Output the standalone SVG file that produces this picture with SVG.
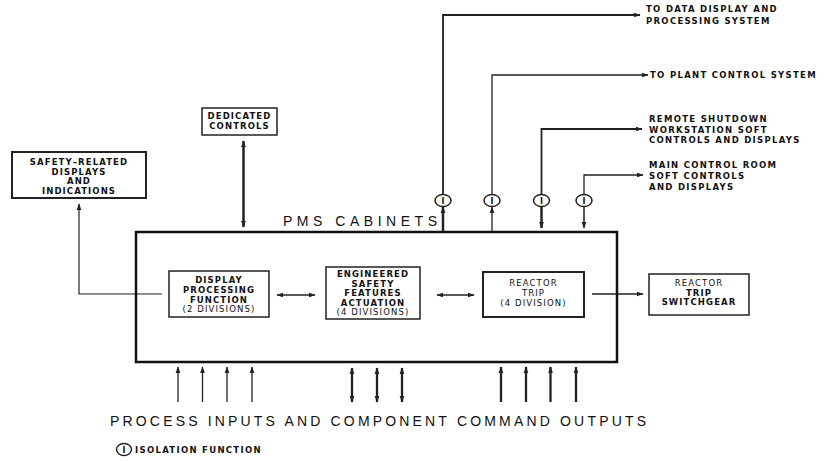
<svg xmlns="http://www.w3.org/2000/svg" width="833" height="461" viewBox="0 0 833 461">
<style>
.s{font-family:"DejaVu Sans","Liberation Sans",sans-serif;font-weight:bold;font-size:8.5px;letter-spacing:1.1px;fill:#111;text-anchor:middle}
.l{font-family:"DejaVu Sans","Liberation Sans",sans-serif;font-weight:bold;font-size:8.5px;letter-spacing:1.3px;fill:#111}
.b{font-family:"Liberation Sans",Arial,sans-serif;font-size:14px;fill:#111}
.ln{stroke:#222;fill:none}
.box{fill:#fff;stroke:#222}
</style>
<defs>
<marker id="ah" viewBox="0 0 10 10" refX="9" refY="5" markerWidth="7" markerHeight="7" markerUnits="userSpaceOnUse" orient="auto-start-reverse">
<path d="M0,1.5 L10,5 L0,8.5 z" fill="#222"/>
</marker>
</defs>
<rect width="833" height="461" fill="#fff"/>

<g id="connectors">
<path class="ln" d="M162,294 H79 V204" stroke-width="1.2" marker-end="url(#ah)"/>
<path class="ln" d="M243.5,141 V227" stroke-width="2.5" marker-start="url(#ah)" marker-end="url(#ah)"/>
<path class="ln" d="M277,295 H315" stroke-width="1.5" marker-start="url(#ah)" marker-end="url(#ah)"/>
<path class="ln" d="M437,295 H474" stroke-width="1.5" marker-start="url(#ah)" marker-end="url(#ah)"/>
<path class="ln" d="M592,294 H643" stroke-width="1.5" marker-end="url(#ah)"/>
<path class="ln" d="M443,194 V15 H640" stroke-width="1.8" marker-end="url(#ah)"/>
<path class="ln" d="M492,194 V75 H648" stroke-width="1.3" marker-end="url(#ah)"/>
<path class="ln" d="M541.5,194 V129 H642" stroke-width="1.8" marker-end="url(#ah)"/>
<path class="ln" d="M584,194 V175 H643" stroke-width="1.3" marker-end="url(#ah)"/>
<path class="ln" d="M443,232 V207" stroke-width="2.5" marker-end="url(#ah)"/>
<path class="ln" d="M492,232 V207" stroke-width="1.3" marker-end="url(#ah)"/>
<path class="ln" d="M541.5,207 V228" stroke-width="2.5" marker-end="url(#ah)"/>
<path class="ln" d="M584,207 V228" stroke-width="1.5" marker-end="url(#ah)"/>
<path class="ln" d="M178,402 V367" stroke-width="1.3" marker-end="url(#ah)"/>
<path class="ln" d="M202.5,402 V367" stroke-width="1.3" marker-end="url(#ah)"/>
<path class="ln" d="M227,402 V367" stroke-width="1.3" marker-end="url(#ah)"/>
<path class="ln" d="M252,402 V367" stroke-width="1.3" marker-end="url(#ah)"/>
<path class="ln" d="M352,368 V402" stroke-width="2.3" marker-start="url(#ah)" marker-end="url(#ah)"/>
<path class="ln" d="M377,368 V402" stroke-width="2.3" marker-start="url(#ah)" marker-end="url(#ah)"/>
<path class="ln" d="M402,368 V402" stroke-width="2.3" marker-start="url(#ah)" marker-end="url(#ah)"/>
<path class="ln" d="M501,402 V367" stroke-width="2.3" marker-end="url(#ah)"/>
<path class="ln" d="M526,402 V367" stroke-width="2.3" marker-end="url(#ah)"/>
<path class="ln" d="M550.5,402 V367" stroke-width="2.3" marker-end="url(#ah)"/>
<path class="ln" d="M576,402 V367" stroke-width="2.3" marker-end="url(#ah)"/>
</g>

<g id="isolation">
<g><ellipse cx="443" cy="200.5" rx="8" ry="6" fill="#fff" stroke="#222" stroke-width="1.5"/><text x="443" y="203.5" class="s" style="letter-spacing:0;font-size:8px">I</text></g>
<g><ellipse cx="492" cy="200.5" rx="8" ry="6" fill="#fff" stroke="#222" stroke-width="1.5"/><text x="492" y="203.5" class="s" style="letter-spacing:0;font-size:8px">I</text></g>
<g><ellipse cx="541.5" cy="200.5" rx="8" ry="6" fill="#fff" stroke="#222" stroke-width="1.5"/><text x="541.5" y="203.5" class="s" style="letter-spacing:0;font-size:8px">I</text></g>
<g><ellipse cx="584" cy="200.5" rx="8" ry="6" fill="#fff" stroke="#222" stroke-width="1.5"/><text x="584" y="203.5" class="s" style="letter-spacing:0;font-size:8px">I</text></g>
</g>

<g id="pms-cabinets">
<rect x="136" y="232" width="481" height="130" fill="none" stroke="#111" stroke-width="2.5"/>
<text x="283" y="226" class="b" textLength="154" lengthAdjust="spacing">PMS CABINETS</text>
</g>

<g id="safety-related">
<rect class="box" x="12" y="152" width="134" height="46" stroke-width="2"/>
<text class="s" x="79" y="165">SAFETY–RELATED</text>
<text class="s" x="79" y="174.5">DISPLAYS</text>
<text class="s" x="79" y="184">AND</text>
<text class="s" x="79" y="193.5">INDICATIONS</text>
</g>

<g id="dedicated-controls">
<rect class="box" x="202" y="108" width="75" height="27" stroke-width="1.5"/>
<text class="s" x="239.5" y="119">DEDICATED</text>
<text class="s" x="239.5" y="128.5">CONTROLS</text>
</g>

<g id="display-processing">
<rect class="box" x="169" y="271" width="100" height="46" stroke-width="1.5"/>
<text class="s" x="219" y="283">DISPLAY</text>
<text class="s" x="219" y="293">PROCESSING</text>
<text class="s" x="219" y="302.5">FUNCTION</text>
<text class="s" x="219" y="312" style="font-weight:normal">(2 DIVISIONS)</text>
</g>

<g id="esfa">
<rect class="box" x="326" y="267" width="94" height="52" stroke-width="1.5"/>
<text class="s" x="373" y="277">ENGINEERED</text>
<text class="s" x="373" y="286.5">SAFETY</text>
<text class="s" x="373" y="296">FEATURES</text>
<text class="s" x="373" y="305.5">ACTUATION</text>
<text class="s" x="373" y="315" style="font-weight:normal">(4 DIVISIONS)</text>
</g>

<g id="reactor-trip">
<rect class="box" x="483" y="272" width="101" height="45" stroke-width="2"/>
<text class="s" x="533.5" y="286" style="font-weight:normal">REACTOR</text>
<text class="s" x="533.5" y="295.5" style="font-weight:normal">TRIP</text>
<text class="s" x="533.5" y="306" style="font-weight:normal">(4 DIVISION)</text>
</g>

<g id="switchgear">
<rect class="box" x="649" y="274" width="100" height="41" stroke-width="1.5"/>
<text class="s" x="699" y="286" style="font-weight:normal">REACTOR</text>
<text class="s" x="699" y="295.5">TRIP</text>
<text class="s" x="699" y="305">SWITCHGEAR</text>
</g>

<g id="outputs-labels">
<text class="l" x="646" y="12">TO DATA DISPLAY AND</text>
<text class="l" x="646" y="24">PROCESSING SYSTEM</text>
<text class="l" x="650" y="78">TO PLANT CONTROL SYSTEM</text>
<text class="l" x="649" y="122">REMOTE SHUTDOWN</text>
<text class="l" x="649" y="133">WORKSTATION SOFT</text>
<text class="l" x="649" y="143">CONTROLS AND DISPLAYS</text>
<text class="l" x="649" y="168">MAIN CONTROL ROOM</text>
<text class="l" x="649" y="179">SOFT CONTROLS</text>
<text class="l" x="649" y="190">AND DISPLAYS</text>
</g>

<g id="bottom-label">
<text class="b" x="110" y="426" textLength="536" lengthAdjust="spacing">PROCESS INPUTS AND COMPONENT COMMAND OUTPUTS</text>
</g>

<g id="legend">
<ellipse cx="124" cy="449.5" rx="7.5" ry="6" fill="#fff" stroke="#222" stroke-width="1.4"/>
<text x="124" y="452.5" class="s" style="letter-spacing:0;font-size:8px">I</text>
<text class="l" x="135" y="453">ISOLATION FUNCTION</text>
</g>
</svg>
